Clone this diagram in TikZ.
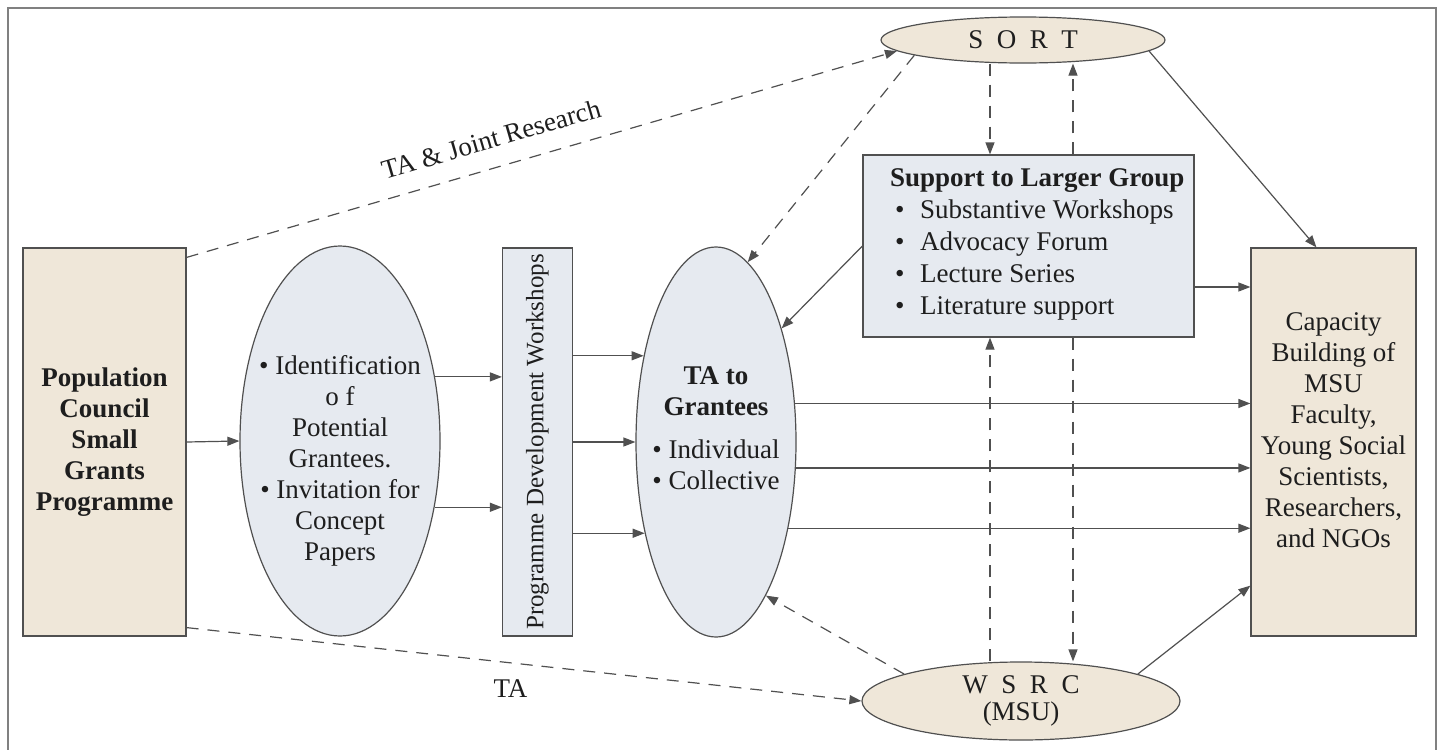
\documentclass[tikz,border=0pt]{standalone}
\usepackage{fontspec}
\setmainfont{Liberation Serif}
\usetikzlibrary{arrows.meta,shapes.geometric}

\definecolor{beige}{HTML}{EFE7D9}
\definecolor{paleblue}{HTML}{E6EAF0}
\definecolor{edge}{HTML}{505050}
\definecolor{ink}{HTML}{1E1E1E}

\newcommand{\basefnt}{\fontsize{13.5}{15.5}\selectfont}
\newcommand{\itm}{\hspace*{2.5pt}\makebox[12.5pt][l]{\textbullet}}

\tikzset{
    box/.style={draw=edge, line width=0.6pt, inner sep=0pt},
    oval/.style={ellipse, draw=edge, line width=0.6pt, inner sep=0pt},
    arr/.style={draw=edge, line width=0.6pt, -{Triangle[length=6pt,width=4.5pt]}},
    dsh/.style={dash pattern=on 6pt off 4.5pt},
    txt/.style={align=center, text=ink},
}

\begin{document}
\begin{tikzpicture}[x=0.5pt, y=-0.5pt, font=\basefnt]
    \useasboundingbox (0,0) rectangle (1442,750);
    \draw[color=gray, line width=0.6pt] (8,750) -- (8,8) -- (1436,8) -- (1436,750);

    % boxes and ovals
    \node[box, fill=beige, minimum width=81.5pt, minimum height=194pt, txt, font=\basefnt\bfseries] (pop) at (104.5,442) {Population\\Council\\Small\\Grants\\Programme};

    \node[oval, fill=paleblue, minimum width=100pt, minimum height=195pt] (ell1) at (340,441) {};
    \node[txt] (ell1txt) at (340,461) {\textbullet\ Identification\\o f\\Potential\\Grantees.\\\textbullet\ Invitation for\\Concept\\Papers};

    \node[box, fill=paleblue, minimum width=35pt, minimum height=194pt] (pdw) at (537.5,442) {};
    \node[rotate=90, text=ink, font=\fontsize{12.5}{14}\selectfont] (pdwtxt) at (pdw.center) {Programme Development Workshops};

    \node[oval, fill=paleblue, minimum width=80pt, minimum height=195pt] (ell2) at (716,442) {};
    \node[txt] (ell2txt) at (716,428) {\textbf{TA to}\\\textbf{Grantees}\\[6pt]\textbullet\ Individual\\\textbullet\ Collective};

    \node[box, fill=paleblue, minimum width=165.5pt, minimum height=91pt] (sup) at (1028.5,246) {};
    \node[align=left, anchor=west, text=ink, font=\fontsize{13.5}{16}\selectfont] (suptxt) at (883,244) {\textbf{Support to Larger Group}\\\itm Substantive Workshops\\\itm Advocacy Forum\\\itm Lecture Series\\\itm Literature support};

    \node[box, fill=beige, minimum width=82.5pt, minimum height=194pt] (cap) at (1333.5,442) {};
    \node[txt] (captxt) at (1333.5,430) {Capacity\\Building of\\MSU\\Faculty,\\Young Social\\Scientists,\\Researchers,\\and NGOs};

    \node[oval, fill=beige, minimum width=142pt, minimum height=23pt, text=ink] (sort) at (1023,40) {S\enspace O\enspace R\enspace T};
    \node[oval, fill=beige, minimum width=159pt, minimum height=39pt, txt] (wsrc) at (1021,701) {W\enspace S\enspace R\enspace C\\[-2pt](MSU)};

    % solid arrows
    \draw[arr] (pop.east) -- (ell1.west);
    \draw[arr] (ell1.34) -- (ell1.34 -| pdw.west);
    \draw[arr] (ell1.-35) -- (ell1.-35 -| pdw.west);
    \draw[arr] (ell2.130 -| pdw.east) -- (ell2.130);
    \draw[arr] (pdw.east) -- (ell2.west);
    \draw[arr] (ell2.232 -| pdw.east) -- (ell2.232);
    \draw[arr] (ell2.26) -- (ell2.26 -| cap.west);
    \draw[arr] (ell2.-18) -- (ell2.-18 -| cap.west);
    \draw[arr] (ell2.-50) -- (ell2.-50 -| cap.west);
    \draw[arr] ([yshift=-20.5pt]sup.east) -- ([yshift=-20.5pt]sup.east -| cap.west);
    \draw[arr] (sup.west) -- (ell2.60);
    \draw[arr] (sort.-5) -- (cap.95);
    \draw[arr] (wsrc.13) -- ([yshift=25.5pt]cap.south west);

    % dashed arrows
    \draw[arr, dsh] ([yshift=-5pt]pop.north east) -- node[pos=0.44, sloped, above=6pt, text=ink] (tajr) {TA \& Joint Research} (sort.185);
    \draw[arr, dsh] ([yshift=4.5pt]pop.south east) -- node[pos=0.48, below=5pt, text=ink] (ta) {TA} (wsrc.west);
    \draw[arr, dsh] (sort.188) -- (ell2.80);
    \draw[arr, dsh] (wsrc.167) -- (ell2.-72);
    \draw[arr, dsh] ([xshift=-16.5pt]sort.south) -- ([xshift=-16.5pt]sort.south |- sup.north);
    \draw[arr, dsh] ([xshift=25pt]sort.south |- sup.north) -- ([xshift=25pt]sort.south);
    \draw[arr, dsh] ([xshift=-15.5pt]wsrc.north) -- ([xshift=-15.5pt]wsrc.north |- sup.south);
    \draw[arr, dsh] ([xshift=26pt]wsrc.north |- sup.south) -- ([xshift=26pt]wsrc.north);
\end{tikzpicture}
\end{document}
